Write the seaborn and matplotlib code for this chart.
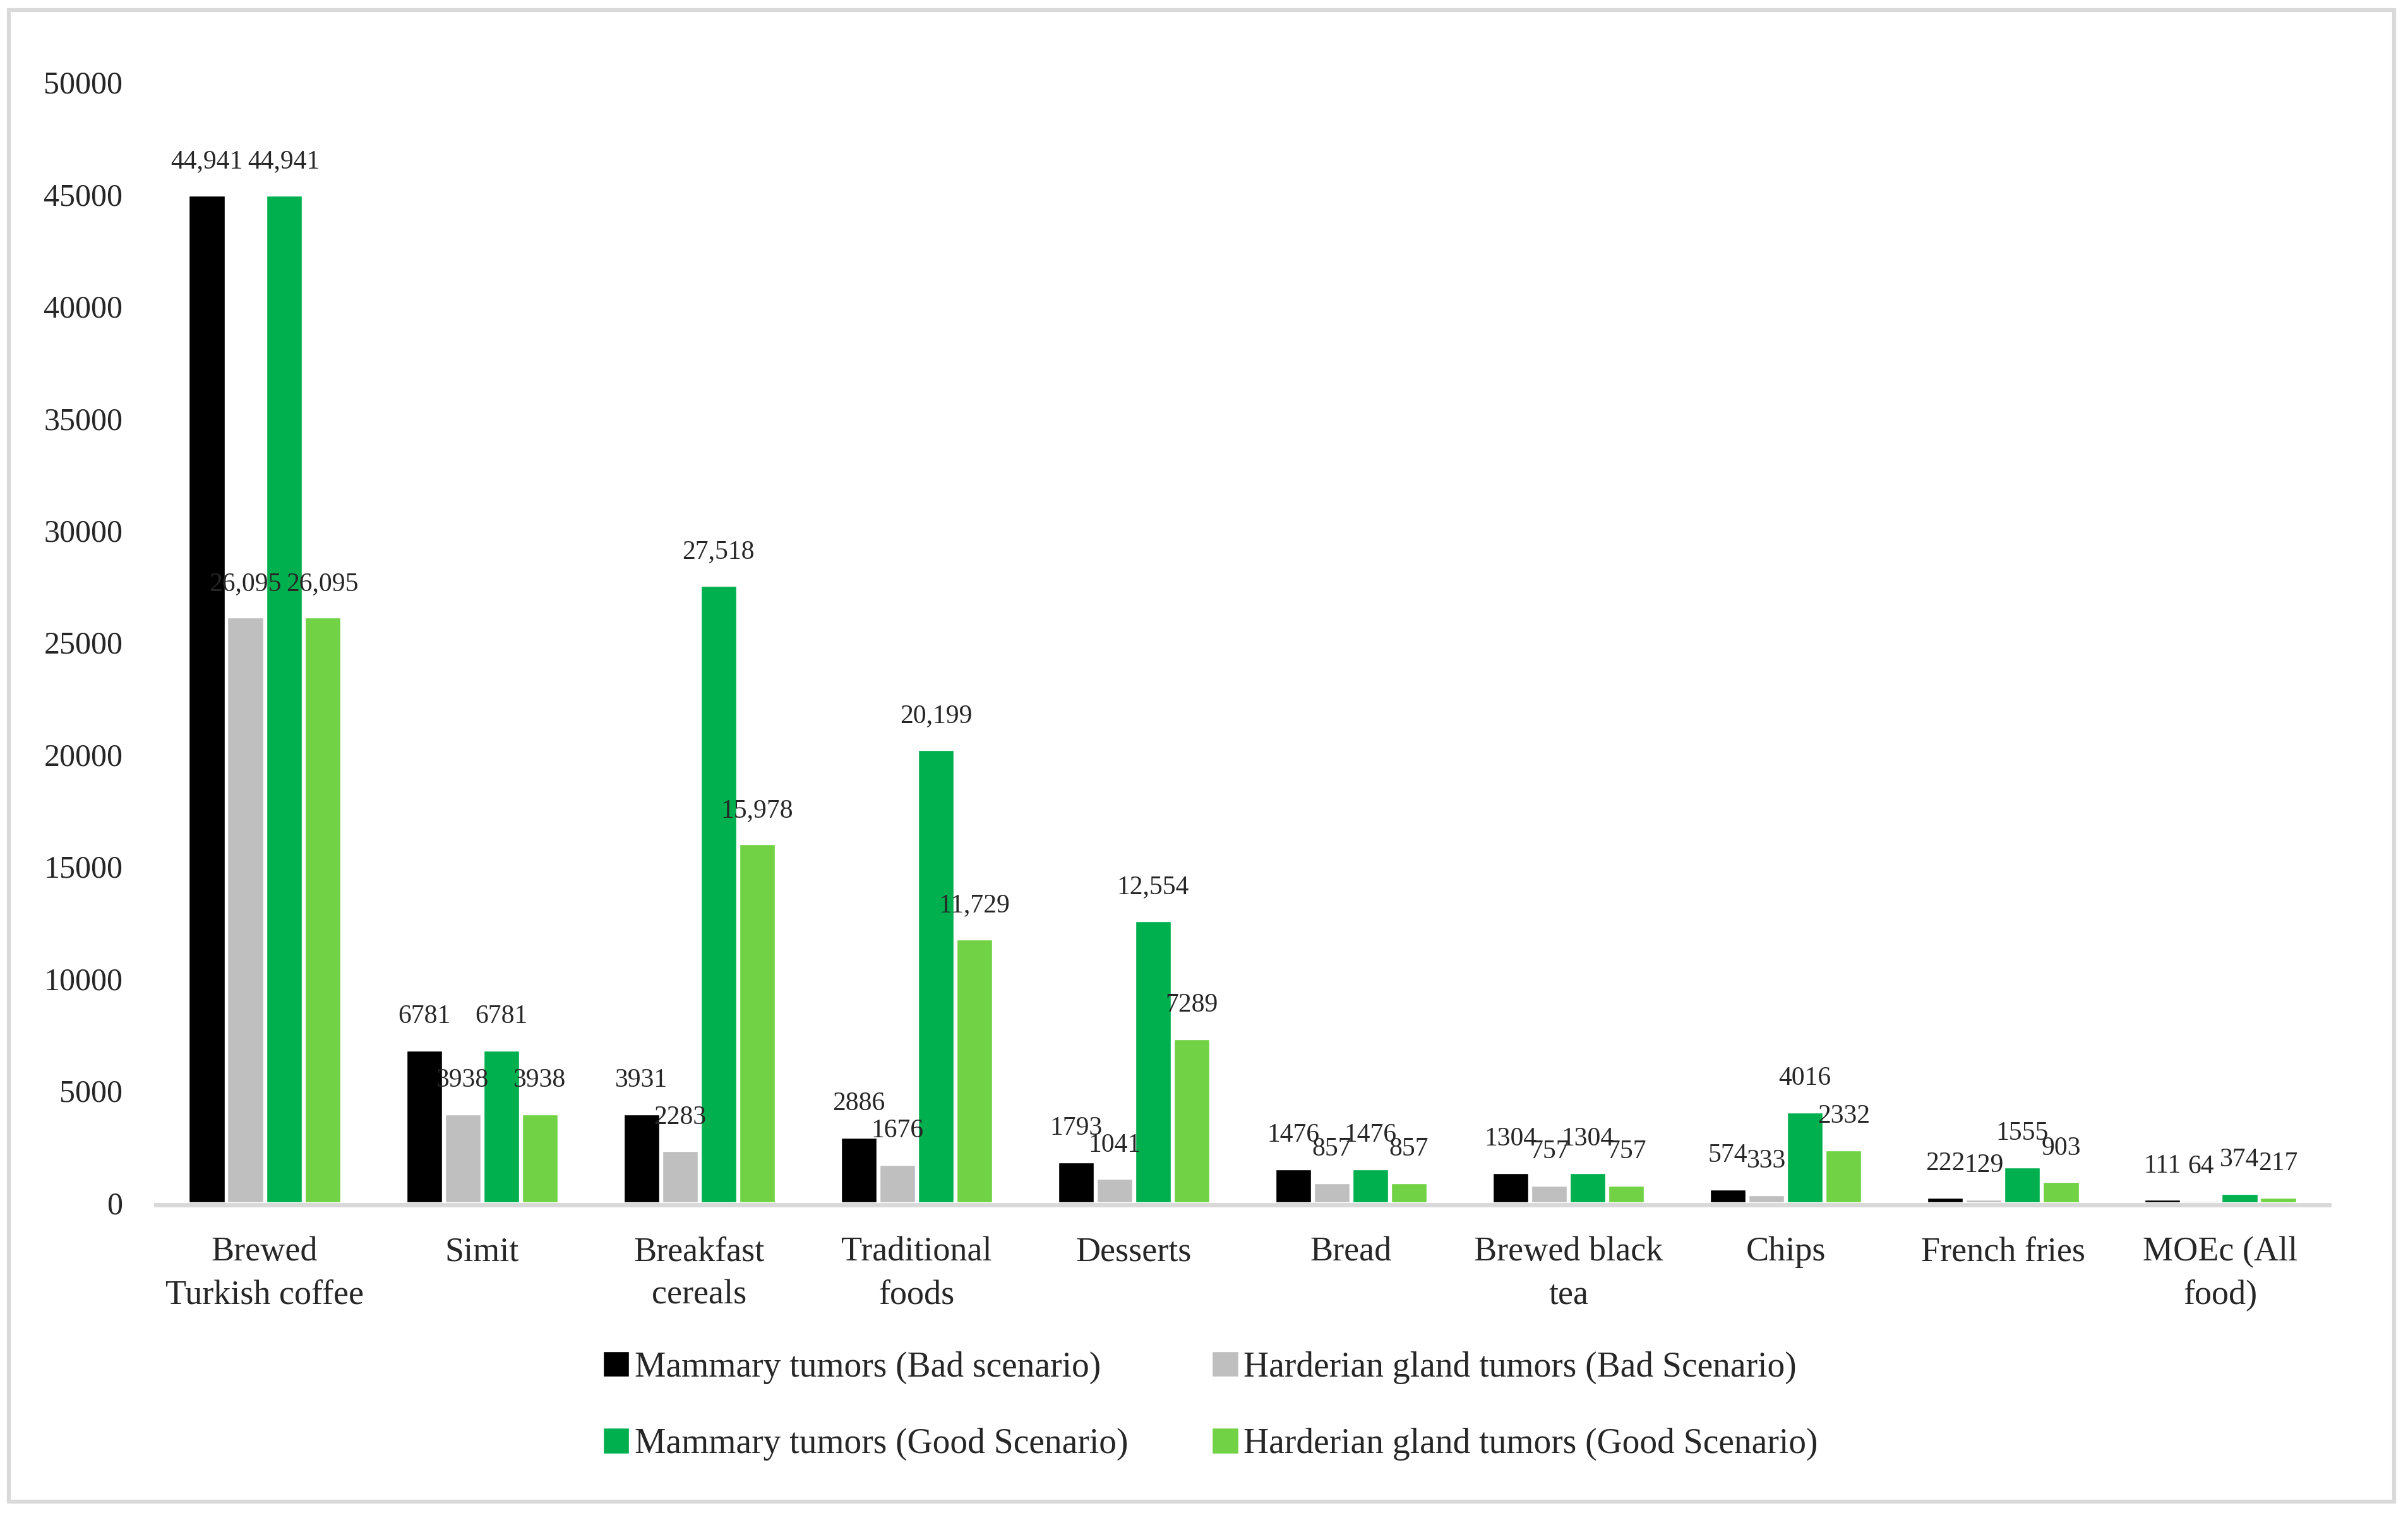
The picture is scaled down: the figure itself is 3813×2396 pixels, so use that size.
import matplotlib
matplotlib.use("Agg")
import matplotlib.pyplot as plt
import matplotlib.patches as mpatches
import seaborn as sns
import numpy as np
import pandas as pd

# Daten aus dem Diagramm
foods = ["Brewed\nTurkish coffee", "Simit", "Breakfast\ncereals", "Traditional\nfoods",
         "Desserts", "Bread", "Brewed black\ntea", "Chips", "French fries", "MOEc (All\nfood)"]
series = ["Mammary tumors (Bad scenario)", "Harderian gland tumors (Bad Scenario)",
          "Mammary tumors (Good Scenario)", "Harderian gland tumors (Good Scenario)"]
mammary_bad = [44941, 6781, 3931, 2886, 1793, 1476, 1304, 574, 222, 111]
harderian_bad = [26095, 3938, 2283, 1676, 1041, 857, 757, 333, 129, 64]
mammary_good = [44941, 6781, 27518, 20199, 12554, 1476, 1304, 4016, 1555, 374]
harderian_good = [26095, 3938, 15978, 11729, 7289, 857, 757, 2332, 903, 217]
colors = ["#000000", "#BFBFBF", "#00B04F", "#70D244"]
yticks = [0, 5000, 10000, 15000, 20000, 25000, 30000, 35000, 40000, 45000, 50000]

values = [mammary_bad, harderian_bad, mammary_good, harderian_good]
df = pd.DataFrame({
    "food": foods * len(series),
    "series": np.repeat(series, len(foods)),
    "value": np.concatenate(values),
})

sns.set_style("white")
plt.rcParams["font.family"] = ["Liberation Serif", "DejaVu Serif"]

fig = plt.figure(figsize=(38.13, 23.96), dpi=100)
ax = fig.add_axes([0.0648, 0.2037, 0.9024, 0.742])

sns.barplot(data=df, x="food", y="value", hue="series", hue_order=series,
            palette=colors, saturation=1, width=0.71, gap=0.08,
            errorbar=None, ax=ax)

# Datenbeschriftungen
for cont, vals in zip(ax.containers, values):
    labs = [f"{v:,}" if v >= 10000 else str(v) for v in vals]
    ax.bar_label(cont, labels=labs, padding=25, fontsize=30)

# Achsenlinie liegt unter den Balken
ax.set_ylim(-100, 50000)
ax.set_yticks(yticks)
ax.set_yticklabels([str(t) for t in yticks])
ax.set_xlabel("")
ax.set_ylabel("")
ax.tick_params(axis="y", length=0, pad=38, labelsize=36)
ax.tick_params(axis="x", length=0, pad=36, labelsize=39)
for lab in ax.get_xticklabels():
    lab.set_linespacing(1.45)

for s in ["top", "right", "left"]:
    ax.spines[s].set_visible(False)
ax.spines["bottom"].set_color("#D9D9D9")
ax.spines["bottom"].set_linewidth(5)
ax.grid(False)

# Legende: zeilenweise Anordnung
handles, labels = ax.get_legend_handles_labels()
ax.get_legend().remove()
order = [0, 2, 1, 3]
fig.legend([handles[i] for i in order], [labels[i] for i in order],
           loc="center", bbox_to_anchor=(0.5027, 0.0708), ncol=2, frameon=False,
           fontsize=40, handlelength=0.75, handleheight=0.75, handletextpad=0.15,
           columnspacing=2.4, labelspacing=1.25)

# Rahmen um das gesamte Diagramm
fig.patches.append(mpatches.Rectangle((0.0038, 0.0075), 0.9905, 0.9858, fill=False,
                                      edgecolor="#D9D9D9", linewidth=4.5,
                                      transform=fig.transFigure, figure=fig))

fig.savefig("out.png", dpi=100, facecolor="white")
